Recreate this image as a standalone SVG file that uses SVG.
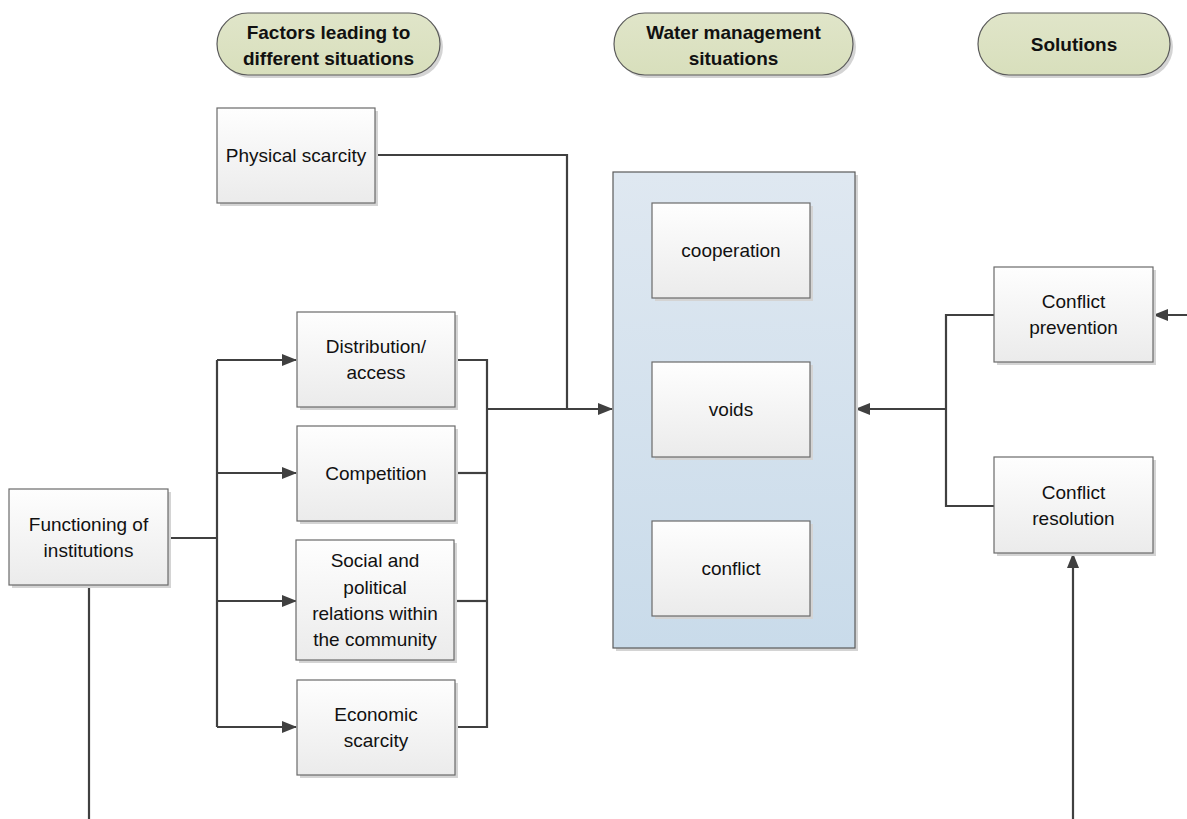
<svg xmlns="http://www.w3.org/2000/svg" width="1187" height="819" viewBox="0 0 1187 819">
<defs>
<linearGradient id="gBox" x1="0" y1="0" x2="0" y2="1"><stop offset="0" stop-color="#fefefe"/><stop offset="1" stop-color="#ebebeb"/></linearGradient>
<linearGradient id="gCont" x1="0" y1="0" x2="0" y2="1"><stop offset="0" stop-color="#dfe8f1"/><stop offset="1" stop-color="#c9dbea"/></linearGradient>
<linearGradient id="gPill" x1="0" y1="0" x2="0" y2="1"><stop offset="0" stop-color="#e0e5c9"/><stop offset="1" stop-color="#d8dfbc"/></linearGradient>
<marker id="arr" markerWidth="15" markerHeight="12" refX="14" refY="6" orient="auto" markerUnits="userSpaceOnUse"><path d="M0,0 L15,6 L0,12 Z" fill="#404040"/></marker>
<style>
.box{fill:url(#gBox);stroke:#6a6a6a;stroke-width:1.2}
.sh{fill:#d4d4d4}
.cont{fill:url(#gCont);stroke:#5a5a5a;stroke-width:1.2}
.pill{fill:url(#gPill);stroke:#5a5a5a;stroke-width:1.2}
.t{font-family:"Liberation Sans",Arial,sans-serif;font-size:19px;fill:#111;text-anchor:middle}
.h{font-family:"Liberation Sans",Arial,sans-serif;font-size:19px;font-weight:bold;fill:#111;text-anchor:middle}
.c{fill:none;stroke:#404040;stroke-width:2.2}
</style>
</defs>

<g id="hdr-factors"><rect class="sh" x="220" y="16" width="223" height="62" rx="31"/><rect class="pill" x="217" y="13" width="223" height="62" rx="31"/><text class="h" x="328.5" y="39">Factors leading to</text><text class="h" x="328.5" y="65">different situations</text></g>
<g id="hdr-water"><rect class="sh" x="617" y="16" width="239" height="62" rx="31"/><rect class="pill" x="614" y="13" width="239" height="62" rx="31"/><text class="h" x="733.5" y="39">Water management</text><text class="h" x="733.5" y="65">situations</text></g>
<g id="hdr-solutions"><rect class="sh" x="981" y="16" width="192" height="62" rx="31"/><rect class="pill" x="978" y="13" width="192" height="62" rx="31"/><text class="h" x="1074" y="51">Solutions</text></g>

<g id="connectors">
<polyline class="c" points="375,155 567,155 567,409"/>
<line class="c" x1="487" y1="409" x2="612" y2="409" marker-end="url(#arr)"/>
<polyline class="c" points="455,360 487,360 487,727 455,727"/>
<line class="c" x1="455" y1="473" x2="487" y2="473"/>
<line class="c" x1="455" y1="601" x2="487" y2="601"/>
<line class="c" x1="168" y1="538" x2="217" y2="538"/>
<line class="c" x1="217" y1="360" x2="217" y2="727"/>
<line class="c" x1="217" y1="360" x2="296" y2="360" marker-end="url(#arr)"/>
<line class="c" x1="217" y1="473" x2="296" y2="473" marker-end="url(#arr)"/>
<line class="c" x1="217" y1="601" x2="296" y2="601" marker-end="url(#arr)"/>
<line class="c" x1="217" y1="727" x2="296" y2="727" marker-end="url(#arr)"/>
<line class="c" x1="89" y1="585" x2="89" y2="819"/>
<polyline class="c" points="994,315 946,315 946,506 994,506"/>
<line class="c" x1="946" y1="409" x2="856" y2="409" marker-end="url(#arr)"/>
<line class="c" x1="1187" y1="315" x2="1154" y2="315" marker-end="url(#arr)"/>
<line class="c" x1="1073" y1="819" x2="1073" y2="554" marker-end="url(#arr)"/>
</g>

<g id="physical"><rect class="sh" x="220" y="111" width="158" height="95"/><rect class="box" x="217" y="108" width="158" height="95"/><text class="t" x="296" y="162">Physical scarcity</text></g>

<g id="situations"><rect class="sh" x="616" y="175" width="242" height="476"/><rect class="cont" x="613" y="172" width="242" height="476"/>
<g id="cooperation"><rect class="sh" x="655" y="206" width="158" height="95"/><rect class="box" x="652" y="203" width="158" height="95"/><text class="t" x="731" y="257">cooperation</text></g>
<g id="voids"><rect class="sh" x="655" y="365" width="158" height="95"/><rect class="box" x="652" y="362" width="158" height="95"/><text class="t" x="731" y="416">voids</text></g>
<g id="conflict"><rect class="sh" x="655" y="524" width="158" height="95"/><rect class="box" x="652" y="521" width="158" height="95"/><text class="t" x="731" y="575">conflict</text></g>
</g>

<g id="distribution"><rect class="sh" x="300" y="315" width="158" height="95"/><rect class="box" x="297" y="312" width="158" height="95"/><text class="t" x="376" y="353">Distribution/</text><text class="t" x="376" y="379">access</text></g>
<g id="competition"><rect class="sh" x="300" y="429" width="158" height="95"/><rect class="box" x="297" y="426" width="158" height="95"/><text class="t" x="376" y="480">Competition</text></g>
<g id="social"><rect class="sh" x="299" y="543" width="158" height="120"/><rect class="box" x="296" y="540" width="158" height="120"/><text class="t" x="375" y="567">Social and</text><text class="t" x="375" y="594">political</text><text class="t" x="375" y="620">relations within</text><text class="t" x="375" y="646">the community</text></g>
<g id="economic"><rect class="sh" x="300" y="683" width="158" height="95"/><rect class="box" x="297" y="680" width="158" height="95"/><text class="t" x="376" y="721">Economic</text><text class="t" x="376" y="747">scarcity</text></g>

<g id="functioning"><rect class="sh" x="12" y="492" width="159" height="96"/><rect class="box" x="9" y="489" width="159" height="96"/><text class="t" x="88.5" y="531">Functioning of</text><text class="t" x="88.5" y="557">institutions</text></g>

<g id="prevention"><rect class="sh" x="997" y="270" width="159" height="95"/><rect class="box" x="994" y="267" width="159" height="95"/><text class="t" x="1073.5" y="308">Conflict</text><text class="t" x="1073.5" y="334">prevention</text></g>
<g id="resolution"><rect class="sh" x="997" y="460" width="159" height="96"/><rect class="box" x="994" y="457" width="159" height="96"/><text class="t" x="1073.5" y="499">Conflict</text><text class="t" x="1073.5" y="525">resolution</text></g>
</svg>
